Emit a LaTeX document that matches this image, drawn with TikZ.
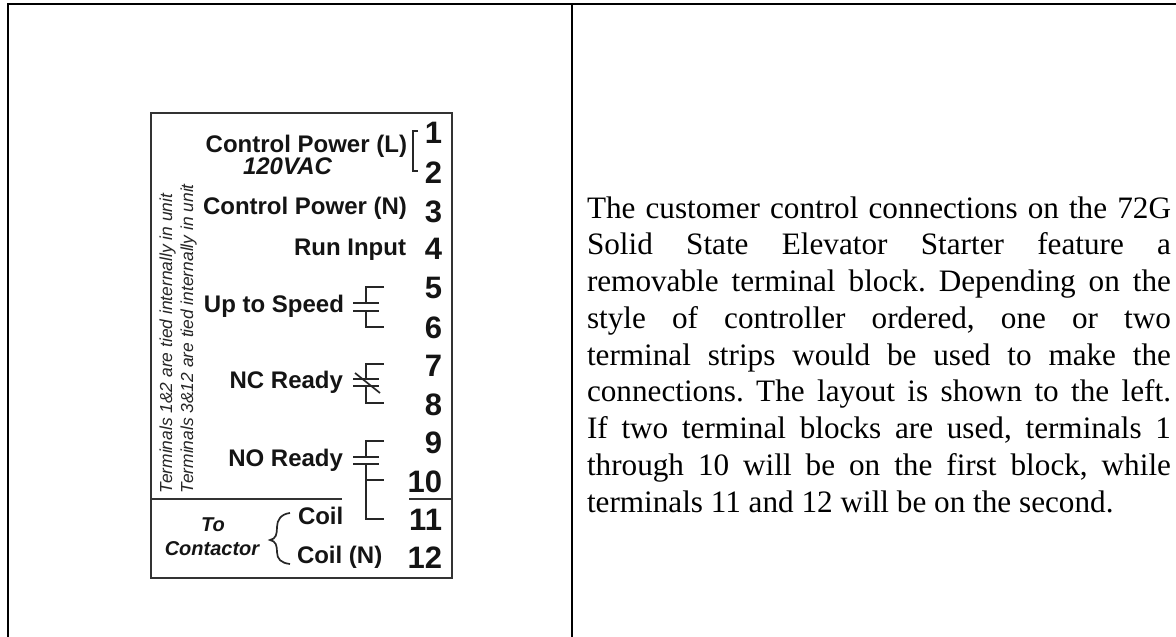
\documentclass[tikz,border=0pt]{standalone}
\usepackage{fontspec}
\setmainfont{Liberation Serif}
\newfontfamily\arialf{Liberation Sans}
\tikzset{
  lab/.style={inner sep=0pt,outer sep=0pt,font=\arialf\bfseries\fontsize{24}{24}\selectfont,text=black!92},
  ilab/.style={inner sep=0pt,outer sep=0pt,font=\arialf\bfseries\itshape\fontsize{20}{20}\selectfont,text=black!92},
  vlab/.style={inner sep=0pt,outer sep=0pt,font=\arialf\bfseries\itshape\fontsize{24}{24}\selectfont,text=black!92},
  num/.style={inner sep=0pt,outer sep=0pt,anchor=base east,font=\arialf\bfseries\fontsize{31}{31}\selectfont,text=black!92},
  side/.style={inner sep=0pt,outer sep=0pt,rotate=90,anchor=base west,font=\arialf\itshape\fontsize{17.4}{17.4}\selectfont,text=black!85},
  frameline/.style={line width=2pt,black},
  boxline/.style={line width=1.8pt,black!80},
  wire/.style={line width=1.7pt,black!85},
}
\begin{document}
\begin{tikzpicture}[x=1pt,y=-1pt]
\useasboundingbox (0,0) rectangle (1176,637);
% table frame
\coordinate (tl) at (8,4); \coordinate (tr) at (1176,4);
\coordinate (bl) at (8,637); \coordinate (mt) at (572,4); \coordinate (mb) at (572,637);
\draw[frameline] (bl) -- (tl) -- (tr);
\draw[frameline] (mt) -- (mb);
% terminal box
\draw[boxline] (151,113) rectangle (452,578);
\coordinate (d1) at (151,499); \coordinate (d2) at (342,499);
\coordinate (d3) at (409,499); \coordinate (d4) at (452,499);
\draw[boxline] (d1) -- (d2) (d3) -- (d4);
% numbers
\node[num] (n1) at (442,143) {1};
\node[num] (n2) at (442,183) {2};
\node[num] (n3) at (442,222) {3};
\node[num] (n4) at (442,259) {4};
\node[num] (n5) at (442,298) {5};
\node[num] (n6) at (442,338) {6};
\node[num] (n7) at (442,376) {7};
\node[num] (n8) at (442,415) {8};
\node[num] (n9) at (442,453) {9};
\node[num] (n10) at (442,492) {10};
\node[num] (n11) at (442,530) {11};
\node[num] (n12) at (442,568) {12};
% labels
\node[lab,anchor=base east] (cpl) at (407,152) {Control Power (L)};
\node[vlab,anchor=base west] (vac) at (243,174) {120VAC};
\node[lab,anchor=base east] (cpn) at (407,214) {Control Power (N)};
\node[lab,anchor=base east] (run) at (406,255) {Run Input};
\node[lab,anchor=base east] (uts) at (344,312) {Up to Speed};
\node[lab,anchor=base east] (ncr) at (343,388) {NC Ready};
\node[lab,anchor=base east] (nor) at (343,466) {NO Ready};
\node[lab,anchor=base west] (coil) at (298,524) {Coil};
\node[lab,anchor=base west] (coiln) at (297,563) {Coil (N)};
\node[ilab,anchor=base] (to) at (213,531) {To};
\node[ilab,anchor=base] (ctr) at (212,555) {Contactor};
\node[side] (s1) at (172,493) {Terminals 1\&2 are tied internally in unit};
\node[side] (s2) at (193,493) {Terminals 3\&12 are tied internally in unit};
% bracket
\draw[wire] (418,131) -- (413,131) -- (413,171) -- (418,171);
% Up to Speed contact
\draw[wire] (384,287) -- (366,287) -- (366,303);
\draw[wire] (353,303) -- (379,303) (353,311) -- (379,311);
\draw[wire] (366,311) -- (366,327) -- (384,327);
% NC Ready contact
\draw[wire] (384,364) -- (366,364) -- (366,379);
\draw[wire] (353,379) -- (379,379) (353,386) -- (379,386);
\draw[wire] (366,386) -- (366,403) -- (384,403);
\draw[wire] (355,373) -- (380,393);
% NO Ready contact
\draw[wire] (384,441) -- (366,441) -- (366,457);
\draw[wire] (353,457) -- (379,457) (353,464) -- (379,464);
\draw[wire] (366,464) -- (366,519) -- (384,519);
\draw[wire] (366,480) -- (384,480);
% brace
\draw[wire] (290,513) .. controls (281,514) and (277,520) .. (277,527)
  .. controls (277,534) and (276,539) .. (270,540)
  .. controls (276,541) and (277,546) .. (277,552)
  .. controls (277,559) and (281,563) .. (290,564);
% paragraph
\node[inner sep=0pt,outer sep=0pt,anchor=base west,text width=584pt,align=justify,
  font=\frenchspacing\fontsize{31.2}{36.75}\selectfont] (para) at (587,218) {%
The customer control connections on the 72G\linebreak
Solid State Elevator Starter feature a\linebreak
removable terminal block. Depending on the\linebreak
style of controller ordered, one or two\linebreak
terminal strips would be used to make the\linebreak
connections. The layout is shown to the left.\linebreak
If two terminal blocks are used, terminals 1\linebreak
through 10 will be on the first block, while\linebreak
terminals 11 and 12 will be on the second.\par};
\end{tikzpicture}
\end{document}
